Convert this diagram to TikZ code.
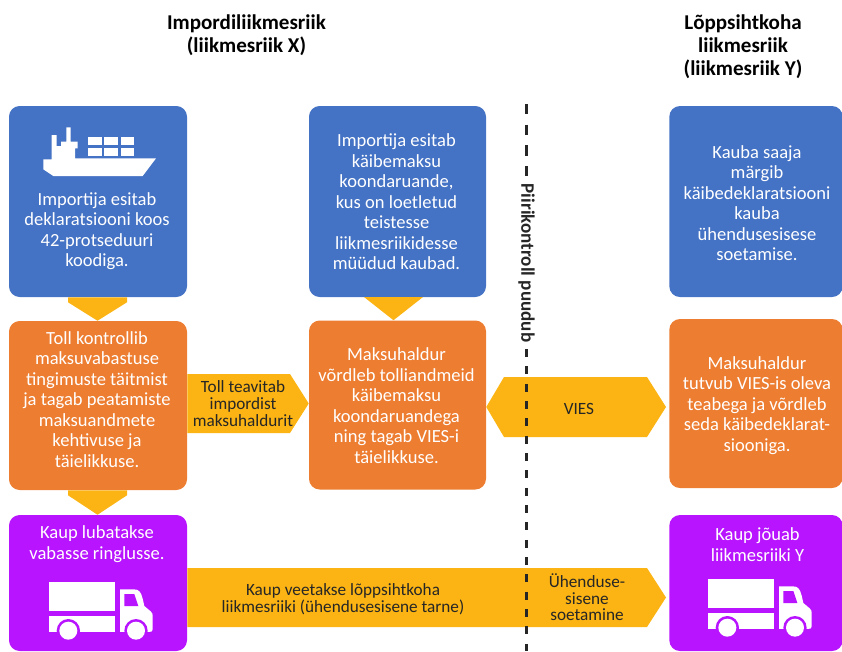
\documentclass[tikz,border=0pt]{standalone}
\usepackage{fontspec}
\setmainfont{Carlito}
\usetikzlibrary{calc}
\definecolor{colorBlue}{HTML}{4472C4}
\definecolor{colorOrange}{HTML}{ED7D31}
\definecolor{colorYellow}{HTML}{FBB413}
\definecolor{colorPurple}{HTML}{B814FF}
\definecolor{colorInk}{HTML}{262626}
\tikzset{
	card/.style={rounded corners=8pt, minimum width=133.5pt, inner sep=0pt},
	cardtext/.style={text=white, align=center, font=\fontsize{13.9}{15.4}\selectfont, inner sep=0pt},
	arrowtext/.style={text=colorInk, align=center, font=\fontsize{12.9}{12.4}\selectfont, inner sep=0pt},
	headtext/.style={text=black, align=center, font=\fontsize{15.8}{17.2}\selectfont\bfseries, inner sep=0pt}
}
\newcommand\drawDownArrow[3]{
	\fill[colorYellow] ($(#1.south)+(#3-29.5,0)$) -- ($(#1.south)+(#3+29.5,0)$) -- ($(#1.south)+(#3+29.5,5)$) -- ($(#2.north)+(#3,0)$) -- ($(#1.south)+(#3-29.5,5)$) -- cycle;
}
\newcommand\drawTruck[2]{
	\begin{scope}[shift={(#1,#2)}, x=0.25pt, y=-0.25pt]
		\fill[white] (0,0) rectangle (198,86);
		\fill[white] (0,101) rectangle (198,150);
		\fill[white] (213,150) -- (213,22) -- (255,22) .. controls (270,22) and (276,30) .. (281,50) -- (286,72) -- (305,88) .. controls (311,93) and (311,96) .. (311,104) -- (311,142) .. controls (311,148) and (307,150) .. (300,150) -- cycle;
		\fill[colorPurple] (58,146) circle (35);
		\fill[colorPurple] (261,146) circle (35);
		\fill[colorPurple] (-5,150) rectangle (320,175);
		\fill[white] (58,146) circle (27);
		\fill[white] (261,146) circle (27);
		\fill[colorPurple] (226,36) -- (256,36) -- (268,72) -- (226,72) -- cycle;
	\end{scope}
}
\newcommand\drawShip[2]{
	\begin{scope}[shift={(#1,#2)}, x=0.25pt, y=-0.25pt]
		\fill[white] (130,178) -- (130,208) -- (160,228) -- (428,228) -- (468,175) -- (225,175) -- (225,145) -- (233,145) -- (233,125) -- (212,125) -- (212,82) -- (199,82) -- (199,125) -- (183,125) -- (183,138) -- (170,138) -- (170,105) -- (155,105) -- (155,178) -- cycle;
		\foreach \x/\w in {264/41,313/40,362/41}{
			\foreach \y in {112,144}{
				\fill[white] (\x,\y) rectangle ++(\w,23);
			}
		}
	\end{scope}
}

\begin{document}
\begin{tikzpicture}[x=0.75pt, y=-0.75pt]
	\useasboundingbox (0,0) rectangle (842,651);
	\clip (0,0) rectangle (842,651);

	% cards, left column
	\node[card, fill=colorBlue, minimum height=143.25pt] (declaration) at (98,201.5) {};
	\node[card, fill=colorOrange, minimum height=126.75pt] (customs) at (98,405.5) {};
	\node[card, fill=colorPurple, minimum height=102pt] (release) at (98,583) {};
	% cards, middle column
	\node[card, fill=colorBlue, minimum height=143.25pt, minimum width=132.75pt] (vatreturn) at (397.5,201.5) {};
	\node[card, fill=colorOrange, minimum height=126.75pt, minimum width=132.75pt] (taxoffice) at (397.5,405) {};
	% cards, right column
	\node[card, fill=colorBlue, minimum height=143.25pt, minimum width=130pt] (acquirer) at (756,201.5) {};
	\node[card, fill=colorOrange, minimum height=126.75pt, minimum width=130pt] (viesoffice) at (756,403.5) {};
	\node[card, fill=colorPurple, minimum height=102pt, minimum width=130pt] (arrival) at (756,583) {};

	% yellow arrows
	\drawDownArrow{declaration}{customs}{-0.5}
	\drawDownArrow{customs}{release}{-0.5}
	\fill[colorYellow] (364,297) -- (423,297) -- (taxoffice.north -| 393.5,0) -- cycle;
	\fill[colorYellow] (customs.east |- 0,374) -- (290,374) -- (taxoffice.west |- 0,403.5) -- (290,433) -- (customs.east |- 0,433) -- cycle;
	\coordinate (viesTip) at (666,407);
	\fill[colorYellow] (taxoffice.east |- 0,407) -- (504,377) -- (647,377) -- (viesTip) -- (647,437) -- (504,437) -- cycle;
	\coordinate (transportTip) at (666,597.5);
	\fill[colorYellow] (release.east |- 0,568) -- (647,568) -- (transportTip) -- (647,627) -- (release.east |- 0,627) -- cycle;

	% border line
	\coordinate (lineTop) at (526.5,104);
	\coordinate (lineBottom) at (526.5,651);
	\node[rotate=-90, text=colorInk, font=\fontsize{14.3}{14}\selectfont\bfseries, inner sep=0pt] (border) at (526.5,263) {Piirikontroll puudub};
	\draw[colorInk, line width=2pt, dash pattern=on 7.8pt off 7.7pt] (lineTop) -- ([yshift=6pt]border.west);
	\draw[colorInk, line width=2pt, dash pattern=on 6pt off 7pt] ([yshift=-5pt]border.east) -- (lineBottom);

	% headings
	\node[headtext] (headX) at (246.5,35) {Impordiliikmesriik\\(liikmesriik X)};
	\node[headtext] (headY) at (743,47) {Lõppsihtkoha\\liikmesriik\\(liikmesriik Y)};

	% icons
	\drawShip{0}{100}
	\drawTruck{49}{582}
	\drawTruck{708}{579}

	% card texts
	\node[cardtext] (declarationText) at (97,231) {Importija esitab\\deklaratsiooni koos\\42-protseduuri\\koodiga.};
	\node[cardtext] (customsText) at (97,399.5) {Toll kontrollib\\maksuvabastuse\\tingimuste täitmist\\ja tagab peatamiste\\maksuandmete\\kehtivuse ja\\täielikkuse.};
	\node[cardtext] (releaseText) at (97,544) {Kaup lubatakse\\vabasse ringlusse.};
	\node[cardtext] (vatreturnText) at (396.5,202) {Importija esitab\\käibemaksu\\koondaruande,\\kus on loetletud\\teistesse\\liikmesriikidesse\\müüdud kaubad.};
	\node[cardtext] (taxofficeText) at (396.5,405.5) {Maksuhaldur\\võrdleb tolliandmeid\\käibemaksu\\koondaruandega\\ning tagab VIES-i\\täielikkuse.};
	\node[cardtext] (acquirerText) at (757,203) {Kauba saaja\\märgib\\käibedeklaratsiooni\\kauba\\ühendusesisese\\soetamise.};
	\node[cardtext] (viesofficeText) at (757,405.5) {Maksuhaldur\\tutvub VIES-is oleva\\teabega ja võrdleb\\seda käibedeklarat-\\siooniga.};
	\node[cardtext] (arrivalText) at (757.5,544.5) {Kaup jõuab\\liikmesriiki Y};

	% arrow texts
	\node[arrowtext, font=\fontsize{12.9}{12.75}\selectfont] (noticeText) at (243,404) {Toll teavitab\\impordist\\maksuhaldurit};
	\node[arrowtext] (viesText) at (579,409) {VIES};
	\node[arrowtext] (transportText) at (343,599) {Kaup veetakse lõppsihtkoha\\liikmesriiki (ühendusesisene tarne)};
	\node[arrowtext] (acquisitionText) at (587,597.5) {Ühenduse-\\sisene\\soetamine};
\end{tikzpicture}
\end{document}
